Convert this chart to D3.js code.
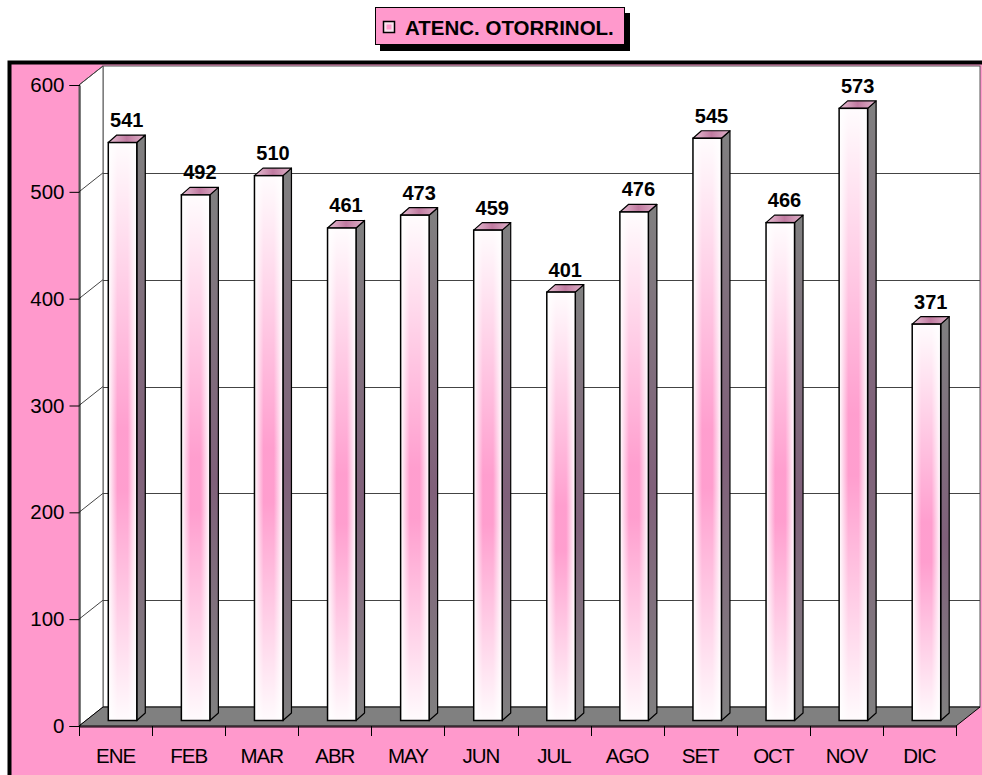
<!DOCTYPE html>
<html>
<head>
<meta charset="utf-8">
<script src="https://cdn.jsdelivr.net/npm/d3@7"></script>
<style>
  body { margin: 0; background: #fff; }
  svg { display: block; font-family: Arial, "Liberation Sans", sans-serif; }
</style>
</head>
<body>
<div id="vis"></div>
<script>
// data
var months = ['ENE', 'FEB', 'MAR', 'ABR', 'MAY', 'JUN', 'JUL', 'AGO', 'SET', 'OCT', 'NOV', 'DIC'];
var values = [541, 492, 510, 461, 473, 459, 401, 476, 545, 466, 573, 371];
var yTicks = [0, 100, 200, 300, 400, 500, 600];
var seriesName = 'ATENC. OTORRINOL.';

var width = 982, height = 775;
var pink = '#ff99cc';

// front plane of the plot, plus the 3d depth offset of the walls
// (window.top is reserved, so plotTop etc.)
var plotLeft = 79, plotRight = 956, plotBottom = 726, plotTop = 85;
var depth = { x: 24, y: -19 };
// bars sit a bit inside the depth
var barFront = { x: 7, y: -5.5 };
var barDepth = { x: 8.5, y: -7.5 };

var x = d3.scaleBand().domain(months).range([plotLeft, plotRight]).padding(0);
var y = d3.scaleLinear().domain([0, 600]).range([plotBottom, plotTop]);

var svg = d3.select('#vis').append('svg')
  .attr('width', width)
  .attr('height', height);

var defs = svg.append('defs');

// front face: pink in the middle, white towards the edges
var gFront = defs.append('linearGradient').attr('id', 'front').attr('x1', 0).attr('x2', 1).attr('y1', 0).attr('y2', 0);
gFront.append('stop').attr('offset', '0%').attr('stop-color', '#fff');
gFront.append('stop').attr('offset', '32%').attr('stop-color', pink);
gFront.append('stop').attr('offset', '68%').attr('stop-color', pink);
gFront.append('stop').attr('offset', '100%').attr('stop-color', '#fff');

// vertical white fade on top of it
var gFade = defs.append('linearGradient').attr('id', 'fade').attr('x1', 0).attr('x2', 0).attr('y1', 0).attr('y2', 1);
gFade.append('stop').attr('offset', '0%').attr('stop-color', '#fff').attr('stop-opacity', 0.97);
gFade.append('stop').attr('offset', '50%').attr('stop-color', '#fff').attr('stop-opacity', 0.05);
gFade.append('stop').attr('offset', '60%').attr('stop-color', '#fff').attr('stop-opacity', 0.05);
gFade.append('stop').attr('offset', '100%').attr('stop-color', '#fff').attr('stop-opacity', 0.96);

var gSide = defs.append('linearGradient').attr('id', 'side').attr('x1', 0).attr('x2', 0).attr('y1', 0).attr('y2', 1);
gSide.append('stop').attr('offset', '0%').attr('stop-color', '#808080');
gSide.append('stop').attr('offset', '55%').attr('stop-color', '#80607a');
gSide.append('stop').attr('offset', '100%').attr('stop-color', '#808080');

var gTop = defs.append('linearGradient').attr('id', 'topface').attr('x1', 0).attr('x2', 1).attr('y1', 0).attr('y2', 0);
gTop.append('stop').attr('offset', '0%').attr('stop-color', '#e8c0d4');
gTop.append('stop').attr('offset', '50%').attr('stop-color', '#c07aa0');
gTop.append('stop').attr('offset', '100%').attr('stop-color', '#e0b4ca');

// chart area frame
svg.append('rect')
  .attr('x', 9.5).attr('y', 62.5)
  .attr('width', 990).attr('height', 740)
  .attr('fill', pink)
  .attr('stroke', '#000')
  .attr('stroke-width', 4);

// back wall
svg.append('rect')
  .attr('x', plotLeft + depth.x).attr('y', plotTop + depth.y)
  .attr('width', plotRight - plotLeft).attr('height', plotBottom - plotTop)
  .attr('fill', '#fff')
  .attr('stroke', '#555')
  .attr('stroke-width', 1);

// side wall
svg.append('polygon')
  .attr('points', [
    [plotLeft, plotBottom], [plotLeft + depth.x, plotBottom + depth.y],
    [plotLeft + depth.x, plotTop + depth.y], [plotLeft, plotTop]
  ].join(' '))
  .attr('fill', '#fff')
  .attr('stroke', '#555')
  .attr('stroke-width', 1);

// gridlines on back wall and side wall
var grid = svg.append('g').attr('stroke', '#444').attr('stroke-width', 1);
grid.selectAll('.gback')
  .data(yTicks.filter(function (d) { return d > 0 && d < 600; }))
  .enter().append('line')
  .attr('x1', plotLeft + depth.x).attr('x2', plotRight + depth.x)
  .attr('y1', function (d) { return Math.round(y(d) + depth.y) + 0.5; })
  .attr('y2', function (d) { return Math.round(y(d) + depth.y) + 0.5; });
grid.selectAll('.gside')
  .data(yTicks.filter(function (d) { return d > 0; }))
  .enter().append('line')
  .attr('x1', plotLeft).attr('y1', function (d) { return y(d); })
  .attr('x2', plotLeft + depth.x).attr('y2', function (d) { return y(d) + depth.y; });

// floor
svg.append('polygon')
  .attr('points', [
    [plotLeft, plotBottom], [plotRight, plotBottom],
    [plotRight + depth.x, plotBottom + depth.y], [plotLeft + depth.x, plotBottom + depth.y]
  ].join(' '))
  .attr('fill', '#808080')
  .attr('stroke', '#000')
  .attr('stroke-width', 1);

// axes
var yAxis = d3.axisLeft(y).tickValues(yTicks).tickSize(10).tickPadding(5);
svg.append('g')
  .attr('transform', 'translate(' + (plotLeft + 0.5) + ',0)')
  .call(yAxis)
  .call(function (g) {
    g.select('.domain').attr('stroke', '#000');
    g.selectAll('text').attr('font-size', 20.5).attr('fill', '#000')
      .attr('font-family', 'Arial, "Liberation Sans", sans-serif');
  });

var xAxis = d3.axisBottom(x).tickSize(0).tickPadding(22);
svg.append('g')
  .attr('transform', 'translate(0,' + (plotBottom + 0.5) + ')')
  .call(xAxis)
  .call(function (g) {
    g.select('.domain').attr('stroke', '#000');
    g.selectAll('text').attr('font-size', 20.5).attr('fill', '#000')
      .attr('letter-spacing', -1)
      .attr('font-family', 'Arial, "Liberation Sans", sans-serif');
  });

// ticks between the categories
var bounds = months.map(function (m) { return x(m); }).concat([plotRight]);
svg.append('g').selectAll('line')
  .data(bounds)
  .enter().append('line')
  .attr('x1', function (d) { return Math.round(d) + 0.5; })
  .attr('x2', function (d) { return Math.round(d) + 0.5; })
  .attr('y1', plotBottom).attr('y2', plotBottom + 10)
  .attr('stroke', '#000');

// bars
var bw = x.bandwidth() * 0.39;
var bars = svg.append('g').selectAll('g')
  .data(values)
  .enter().append('g');

function fx(d, i) { return x(months[i]) + (x.bandwidth() - bw) / 2 + barFront.x; }
function fy(d) { return y(d) + barFront.y; }
var base = plotBottom + barFront.y;

bars.append('polygon')
  .attr('points', function (d, i) {
    var x0 = fx(d, i) + bw, y0 = fy(d);
    return [[x0, y0], [x0 + barDepth.x, y0 + barDepth.y],
      [x0 + barDepth.x, base + barDepth.y], [x0, base]].join(' ');
  })
  .attr('fill', 'url(#side)')
  .attr('stroke', '#000')
  .attr('stroke-width', 1.2)
  .attr('stroke-linejoin', 'round');

bars.append('polygon')
  .attr('points', function (d, i) {
    var x0 = fx(d, i), y0 = fy(d);
    return [[x0, y0], [x0 + barDepth.x, y0 + barDepth.y],
      [x0 + bw + barDepth.x, y0 + barDepth.y], [x0 + bw, y0]].join(' ');
  })
  .attr('fill', 'url(#topface)')
  .attr('stroke', '#000')
  .attr('stroke-width', 1.2)
  .attr('stroke-linejoin', 'round');

bars.append('rect')
  .attr('x', fx).attr('y', fy)
  .attr('width', bw)
  .attr('height', function (d) { return base - fy(d); })
  .attr('fill', 'url(#front)');

bars.append('rect')
  .attr('x', fx).attr('y', fy)
  .attr('width', bw)
  .attr('height', function (d) { return base - fy(d); })
  .attr('fill', 'url(#fade)')
  .attr('stroke', '#000')
  .attr('stroke-width', 1.5);

// value labels
bars.append('text')
  .attr('x', function (d, i) { return fx(d, i) + bw / 2 + barDepth.x / 2; })
  .attr('y', function (d) { return fy(d) + barDepth.y - 8; })
  .attr('text-anchor', 'middle')
  .attr('font-size', 20)
  .attr('font-weight', 'bold')
  .text(function (d) { return d; });

// legend
var legend = svg.append('g');
legend.append('rect')
  .attr('x', 380).attr('y', 13).attr('width', 250).attr('height', 38)
  .attr('fill', '#000');
legend.append('rect')
  .attr('x', 375.5).attr('y', 7.5).attr('width', 249).attr('height', 37)
  .attr('fill', pink).attr('stroke', '#000');
legend.append('rect')
  .attr('x', 383.5).attr('y', 21.5).attr('width', 11).attr('height', 11)
  .attr('fill', '#fbe3ef').attr('stroke', '#000').attr('stroke-width', 1.5);
legend.append('rect')
  .attr('x', 386.5).attr('y', 24.5).attr('width', 5).attr('height', 5)
  .attr('fill', pink);
legend.append('text')
  .attr('x', 405).attr('y', 35)
  .attr('font-size', 20.5)
  .attr('font-weight', 'bold')
  .text(seriesName);
</script>
</body>
</html>
